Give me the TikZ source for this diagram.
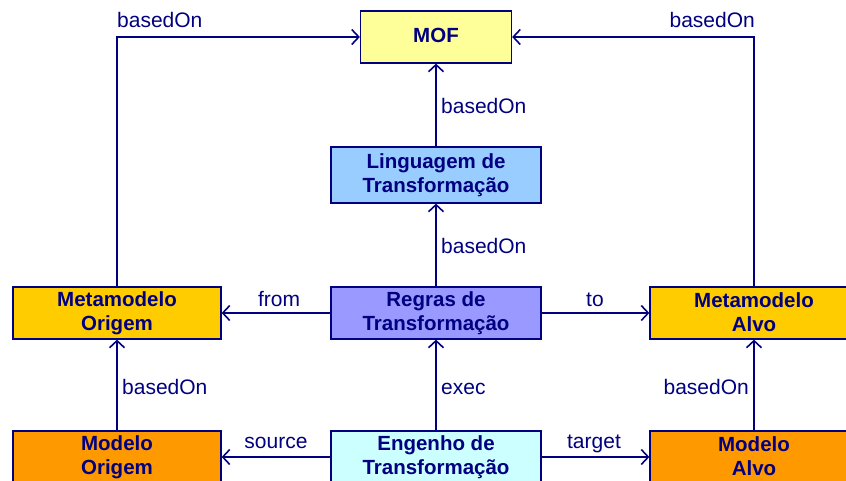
\documentclass[tikz,border=0pt]{standalone}
\usepackage{fontspec}
\setmainfont{Liberation Sans}
\usetikzlibrary{arrows.meta}
\definecolor{navy}{RGB}{0,0,128}
\definecolor{mofc}{RGB}{255,255,153}
\definecolor{lingc}{RGB}{153,204,255}
\definecolor{metac}{RGB}{255,204,0}
\definecolor{regc}{RGB}{153,153,255}
\definecolor{engc}{RGB}{204,255,255}
\definecolor{modc}{RGB}{255,153,0}
\newcommand{\ls}{\rule[-4pt]{0pt}{20pt}}
\begin{document}
\begin{tikzpicture}[x=1pt,y=-1pt,
  box/.style={draw=navy, line width=1.3pt, text=navy, font=\fontsize{20.5}{24}\selectfont\bfseries, align=center, inner sep=0pt, minimum height=52pt},
  lbl/.style={text=navy, font=\fontsize{21}{25}\selectfont, inner sep=0pt},
  conn/.style={draw=navy, line width=2pt, -{Straight Barb[length=7pt,width=15pt,line width=1.6pt]}}]
\useasboundingbox (0,0) rectangle (846,481);
\clip (0,0) rectangle (846,481);
\fill[white] (0,0) rectangle (846,481);

\node[box, fill=mofc, minimum width=151pt] (mof) at (436,37) {MOF\ls};
\node[box, fill=lingc, minimum width=210pt, minimum height=56pt] (ling) at (436,175) {Linguagem de\ls\\Transformação\ls};
\node[box, fill=metac, minimum width=208pt] (mo) at (117,313) {Metamodelo\ls\\Origem\ls};
\node[box, fill=regc, minimum width=210pt] (reg) at (436,313) {Regras de\ls\\Transformação\ls};
\node[box, fill=metac, minimum width=208pt] (ma) at (754,313) {Metamodelo\ls\\Alvo\ls};
\node[box, fill=modc, minimum width=208pt] (modo) at (117,457) {Modelo\ls\\Origem\ls};
\node[box, fill=engc, minimum width=210pt] (eng) at (436,457) {Engenho de\ls\\Transformação\ls};
\node[box, fill=modc, minimum width=208pt] (moda) at (754,457) {Modelo\ls\\Alvo\ls};

\draw[conn] (mo.north) |- (mof.west);
\draw[conn] (ma.north) |- (mof.east);
\draw[conn] (ling.north) -- (mof.south);
\draw[conn] (reg.north) -- (ling.south);
\draw[conn] (reg.west) -- (mo.east);
\draw[conn] (reg.east) -- (ma.west);
\draw[conn] (eng.north) -- (reg.south);
\draw[conn] (modo.north) -- (mo.south);
\draw[conn] (moda.north) -- (ma.south);
\draw[conn] (eng.west) -- (modo.east);
\draw[conn] (eng.east) -- (moda.west);

\node[lbl, anchor=base west] (l1) at (117,28) {basedOn};
\node[lbl, anchor=base east] (l2) at (755,28) {basedOn};
\node[lbl, anchor=base west] (l3) at (441,114) {basedOn};
\node[lbl, anchor=base west] (l4) at (441,254) {basedOn};
\node[lbl, anchor=base] (l5) at (279,306) {from};
\node[lbl, anchor=base] (l6) at (595,306) {to};
\node[lbl, anchor=base west] (l7) at (441,394) {exec};
\node[lbl, anchor=base west] (l8) at (122,394) {basedOn};
\node[lbl, anchor=base east] (l9) at (749,394) {basedOn};
\node[lbl, anchor=base] (l10) at (276,448) {source};
\node[lbl, anchor=base] (l11) at (594,448) {target};
\end{tikzpicture}
\end{document}
